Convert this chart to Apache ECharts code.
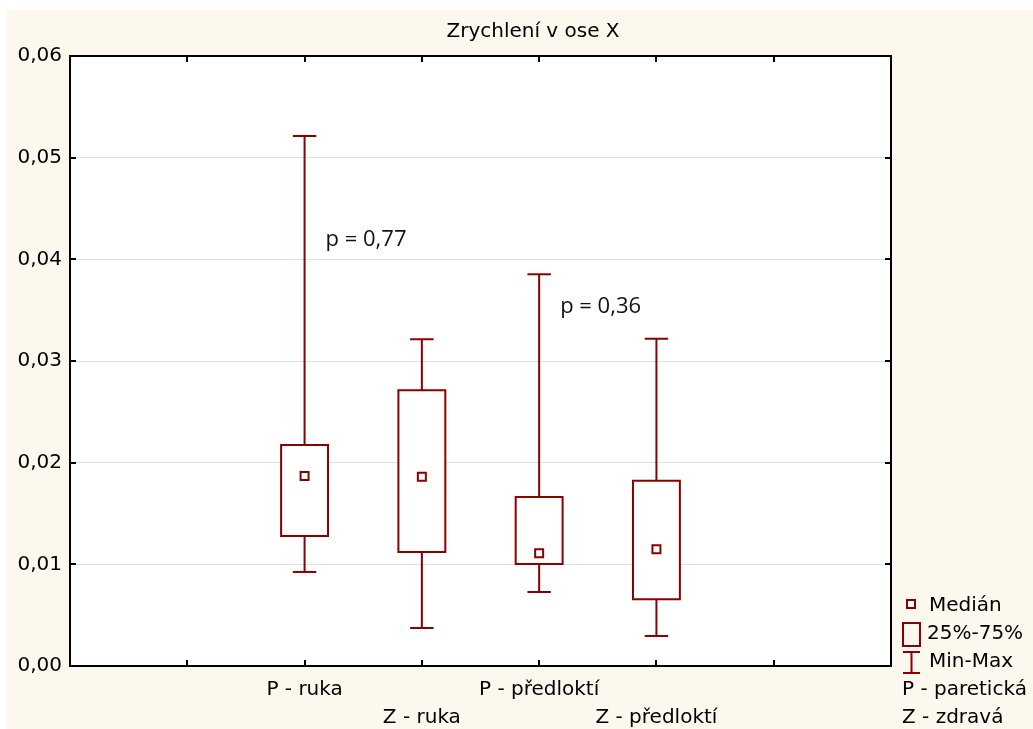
<!DOCTYPE html>
<html>
<head>
<meta charset="utf-8">
<script src="https://cdn.jsdelivr.net/npm/echarts@6/dist/echarts.min.js"></script>
<style>
  html, body { margin: 0; padding: 0; background: #ffffff; }
  #chart { width: 1033px; height: 729px; }
</style>
</head>
<body>
<div id="chart"></div>
<script>
// Acceleration along the X axis: min, quartiles, median and max per group
const groupLabels = ['P - ruka', 'Z - ruka', 'P - předloktí', 'Z - předloktí'];
const groupSlots  = [2, 3, 4, 5];            // positions on the 0..7 x scale
const minValues    = [0.00925, 0.00374, 0.00728, 0.00295];
const q1Values     = [0.01279, 0.01121, 0.01003, 0.00656];
const medianValues = [0.01869, 0.01862, 0.01108, 0.01148];
const q3Values     = [0.02174, 0.02712, 0.01662, 0.01823];
const maxValues    = [0.05213, 0.03214, 0.03853, 0.03219];

const yTicks = [0, 0.01, 0.02, 0.03, 0.04, 0.05, 0.06];
const xSlots = [0, 1, 2, 3, 4, 5, 6, 7];

// p-values of the paired comparisons, anchored in data coordinates
const pTexts   = ['p = 0,77', 'p = 0,36'];
const pSlots   = [2, 4];
const pHeights = [0.0419, 0.0353];

const legendTexts = ['Medián', '25%-75%', 'Min-Max', 'P - paretická', 'Z - zdravá'];

const RED = '#8b0000';
const BG = '#fdf8ee';

const boxData = groupSlots.map((s, i) =>
  [s, minValues[i], q1Values[i], medianValues[i], q3Values[i], maxValues[i]]);
const pData = pSlots.map((s, i) => [s, pHeights[i], pTexts[i]]);

function fmtY(v) { return (Math.round(v * 100) / 100).toFixed(2).replace('.', ','); }

const chart = echarts.init(document.getElementById('chart'), null, { renderer: 'canvas' });

function renderBox(params, api) {
  const x = api.value(0);
  const pMin = api.coord([x, api.value(1)]);
  const pQ1 = api.coord([x, api.value(2)]);
  const pMed = api.coord([x, api.value(3)]);
  const pQ3 = api.coord([x, api.value(4)]);
  const pMax = api.coord([x, api.value(5)]);
  const band = api.size([1, 0])[0];
  const halfBox = band * 0.2;
  const halfCap = band * 0.1;
  const cx = pMed[0];
  const line = { stroke: RED, lineWidth: 2, fill: null };
  return {
    type: 'group',
    children: [
      { type: 'line', shape: { x1: cx, y1: pMax[1], x2: cx, y2: pQ3[1] }, style: line },
      { type: 'line', shape: { x1: cx, y1: pQ1[1], x2: cx, y2: pMin[1] }, style: line },
      { type: 'line', shape: { x1: cx - halfCap, y1: pMax[1], x2: cx + halfCap, y2: pMax[1] }, style: line },
      { type: 'line', shape: { x1: cx - halfCap, y1: pMin[1], x2: cx + halfCap, y2: pMin[1] }, style: line },
      { type: 'rect', shape: { x: cx - halfBox, y: pQ3[1], width: halfBox * 2, height: pQ1[1] - pQ3[1] },
        style: { stroke: RED, lineWidth: 2, fill: '#ffffff' } },
      { type: 'rect', shape: { x: cx - 4, y: pMed[1] - 4, width: 8, height: 8 },
        style: { stroke: RED, lineWidth: 2, fill: '#ffffff' } }
    ]
  };
}

// inward tick marks on all four sides of the frame
function renderTicks(params, api) {
  const cs = params.coordSys;
  const left = cs.x, right = cs.x + cs.width, top = cs.y, bottom = cs.y + cs.height;
  const len = 6;
  const st = { stroke: '#000', lineWidth: 2 };
  const children = [];
  yTicks.forEach(v => {
    const y = Math.round(api.coord([0, v])[1]);
    children.push({ type: 'line', shape: { x1: left, y1: y, x2: left + len, y2: y }, style: st });
    children.push({ type: 'line', shape: { x1: right, y1: y, x2: right - len, y2: y }, style: st });
  });
  xSlots.forEach(s => {
    const x = Math.round(api.coord([s, 0])[0]);
    children.push({ type: 'line', shape: { x1: x, y1: bottom, x2: x, y2: bottom - len }, style: st });
    children.push({ type: 'line', shape: { x1: x, y1: top, x2: x, y2: top + len }, style: st });
  });
  // frame
  children.push({ type: 'rect', shape: { x: left, y: top, width: cs.width, height: cs.height },
    style: { stroke: '#000', lineWidth: 2, fill: null } });
  return { type: 'group', children: children };
}

function renderP(params, api) {
  const p = api.coord([api.value(0), api.value(1)]);
  return {
    type: 'text',
    x: p[0] + 21, y: p[1],
    style: {
      text: pTexts[params.dataIndex],
      fill: '#111111',
      font: '22px "Open Sans"',
      textAlign: 'left',
      textVerticalAlign: 'middle'
    }
  };
}

const textFamily = '"DejaVu Sans", sans-serif';
const legendFont = '20px "DejaVu Sans", sans-serif';
const legendGraphic = [
  // page background
  { type: 'rect', left: 6, top: 10, shape: { width: 1027, height: 719 }, style: { fill: BG }, z: -10, silent: true },
  // median marker
  { type: 'rect', shape: { x: 907, y: 600, width: 8, height: 8 }, style: { stroke: RED, lineWidth: 2, fill: '#fff' } },
  { type: 'text', x: 929, y: 606, style: { text: legendTexts[0], font: legendFont, fill: '#000', textVerticalAlign: 'middle' } },
  // quartile box
  { type: 'rect', shape: { x: 903, y: 623, width: 17, height: 23 }, style: { stroke: RED, lineWidth: 2, fill: 'none' } },
  { type: 'text', x: 927, y: 634, style: { text: legendTexts[1], font: legendFont, fill: '#000', textVerticalAlign: 'middle' } },
  // min-max whisker
  { type: 'line', shape: { x1: 911.5, y1: 652, x2: 911.5, y2: 673 }, style: { stroke: RED, lineWidth: 2 } },
  { type: 'line', shape: { x1: 903, y1: 652, x2: 920, y2: 652 }, style: { stroke: RED, lineWidth: 2 } },
  { type: 'line', shape: { x1: 903, y1: 673, x2: 920, y2: 673 }, style: { stroke: RED, lineWidth: 2 } },
  { type: 'text', x: 929, y: 662, style: { text: legendTexts[2], font: legendFont, fill: '#000', textVerticalAlign: 'middle' } },
  { type: 'text', x: 902, y: 690, style: { text: legendTexts[3], font: legendFont, fill: '#000', textVerticalAlign: 'middle' } },
  { type: 'text', x: 902, y: 718, style: { text: legendTexts[4], font: legendFont, fill: '#000', textVerticalAlign: 'middle' } }
];

chart.setOption({
  animation: false,
  backgroundColor: 'transparent',
  title: {
    text: 'Zrychlení v ose X',
    left: 528, top: 17,
    textAlign: 'center',
    textStyle: { fontFamily: textFamily, fontSize: 20, fontWeight: 'normal', color: '#000' }
  },
  graphic: legendGraphic,
  grid: {
    left: 70, top: 56, right: 142, bottom: 63,
    outerBoundsMode: 'none',
    containLabel: false,
    show: true, backgroundColor: '#ffffff', borderWidth: 0
  },
  xAxis: {
    type: 'value', min: 0, max: 7, interval: 1, position: 'bottom',
    axisLine: { show: false },
    axisTick: { show: false },
    splitLine: { show: false },
    axisLabel: {
      margin: 10, fontFamily: textFamily, fontSize: 20, color: '#000', lineHeight: 28,
      verticalAlign: 'top',
      formatter: function (v) {
        const i = groupSlots.indexOf(Math.round(v));
        if (i < 0) return '';
        return (i % 2 === 1 ? '\n' : '') + groupLabels[i];
      }
    }
  },
  yAxis: {
    type: 'value', min: yTicks[0], max: yTicks[yTicks.length - 1], interval: 0.01, position: 'left',
    axisLine: { show: false },
    axisTick: { show: false },
    splitLine: { show: true, lineStyle: { color: '#e0e0e0', width: 1 } },
    axisLabel: { margin: 8, fontFamily: textFamily, fontSize: 20, color: '#000', formatter: fmtY }
  },
  series: [
    {
      type: 'custom', name: 'box', renderItem: renderBox, data: boxData,
      encode: { x: 0, y: [1, 2, 3, 4, 5] }, z: 3
    },
    {
      type: 'custom', name: 'p', renderItem: renderP, data: pData,
      encode: { x: 0, y: 1 }, z: 4
    },
    {
      type: 'custom', name: 'frame', renderItem: renderTicks, data: [[0, 0]],
      encode: { x: 0, y: 1 }, z: 5, silent: true
    }
  ]
});
</script>
</body>
</html>
